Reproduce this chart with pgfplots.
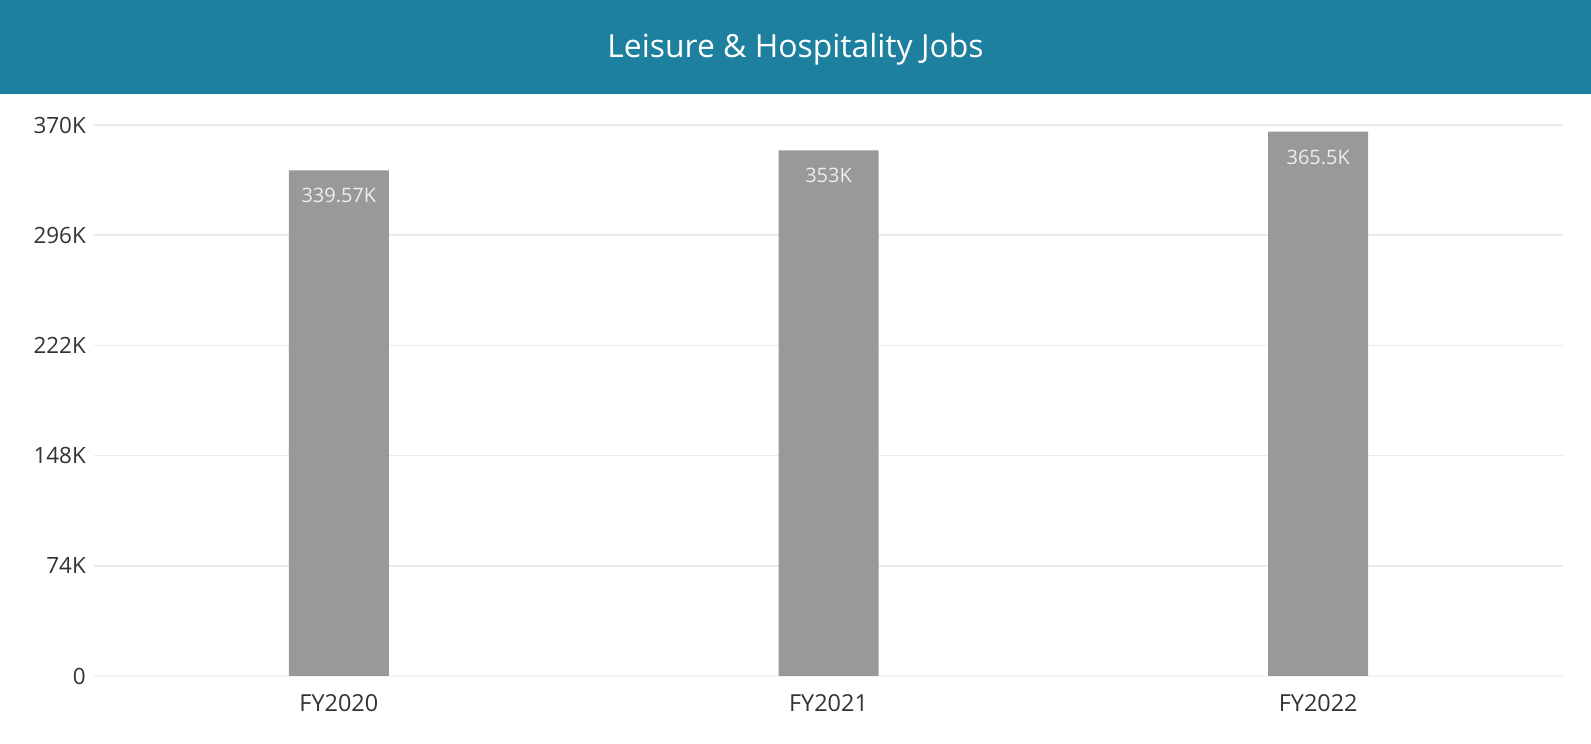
\documentclass[border=0pt]{standalone}
\usepackage{pgfplots}
\pgfplotsset{compat=1.18}
\usepackage{fontspec}
\setmainfont{Open Sans}
\definecolor{banner}{HTML}{1E809F}
\definecolor{barc}{HTML}{999999}
\definecolor{gridc}{HTML}{EBEBEB}
\definecolor{gridz}{HTML}{F4F4F4}
\definecolor{txt}{HTML}{333333}
\definecolor{lbl}{HTML}{EEEEEE}
\begin{document}
\begin{tikzpicture}[x=1bp,y=1bp]
\useasboundingbox (0,0) rectangle (1591,744);
\fill[white] (0,0) rectangle (1591,744);
\fill[banner] (0,650) rectangle (1591,744);
\node[text=white, font=\fontsize{32}{36}\selectfont, anchor=center] at (795.5,694.5) {Leisure \& Hospitality Jobs};
\begin{axis}[
  at={(94bp,68bp)}, anchor=south west,
  scale only axis, width=1469bp, height=551bp,
  xmin=-0.5, xmax=2.5, ymin=0, ymax=370,
  axis line style={draw=none},
  ybar, bar width=100bp,
  xtick={0,1,2}, xticklabels={FY2020,FY2021,FY2022},
  ytick={74,148,222,296,370},
  yticklabels={74K,148K,222K,296K,370K},
  extra y ticks={0}, extra y tick labels={0},
  extra y tick style={grid style={color=gridz, line width=1.5bp}},
  ymajorgrids, grid style={color=gridc, line width=1.5bp},
  major tick length=0pt,
  /pgf/number format/assume math mode=true,
  ticklabel style={text=txt, font=\fontsize{22.5}{26}\selectfont},
  xticklabel style={anchor=north, inner sep=0pt, yshift=-18bp, font=\fontsize{23.5}{27}\selectfont},
  yticklabel style={anchor=east, inner sep=0pt, xshift=-8bp},
  nodes near coords={\pgfmathprintnumber[fixed, precision=2, assume math mode=true]{\pgfplotspointmeta}K},
  every node near coord/.style={anchor=north, inner sep=0pt, yshift=-17.7bp, text=lbl, font=\fontsize{20}{24}\selectfont},
  clip=false,
]
\addplot[fill=barc, draw=none] coordinates {(0,339.57) (1,353) (2,365.5)};
\end{axis}
\end{tikzpicture}
\end{document}
